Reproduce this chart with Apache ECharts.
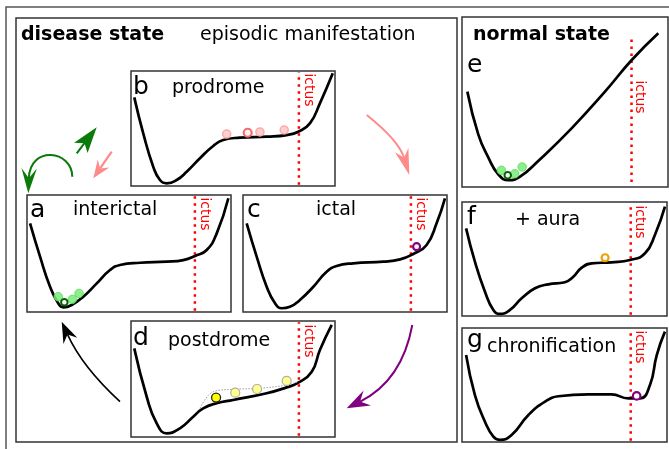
<!DOCTYPE html>
<html><head><meta charset="utf-8">
<script src="https://cdn.jsdelivr.net/npm/echarts@6/dist/echarts.min.js"></script>
<style>html,body{margin:0;padding:0;background:#fff}#c{width:669px;height:449px}</style>
</head><body><div id="c"></div>
<script>
// ---- data (panel coordinates: x,y in 0..100 of each panel) ----
const panelLetters = ['a','b','c','d','e','f','g'];
const panelNames = ['interictal','prodrome','ictal','postdrome','','+ aura','chronification'];
const headings = ['disease state','episodic manifestation','normal state'];
const ictusLabel = 'ictus';
const ictusX = 82.3;

const curveA = [[1.5,75.8],[6.4,47.3],[11.3,21.6],[15.3,7.4],[17.8,4],[21.9,6],[27.6,13.1],[34.2,24.5],[40.7,35.9],[45.6,40.2],[55.4,42.1],[68.5,43],[76.6,44.4],[82.4,47.9],[88.1,53],[93,67.2],[98.7,97.2]];
const curveB = [[1.6,77.1],[6.0,45.8],[10.9,16.8],[14.2,5.2],[17.5,2.3],[22.4,5.2],[27.3,12.4],[33.8,24.1],[40.3,34.8],[45.2,40],[53.4,42],[66.5,42.9],[76.3,44.3],[82,47.2],[87.7,54.5],[92.6,71.9],[98.9,98]];
const curveC = [[1.8,75.8],[6.7,47.3],[11.6,21.6],[15.7,7.4],[19,3.2],[23,4.5],[27.9,10.3],[34.5,21.6],[41,34.4],[45.9,39.3],[54.1,41.6],[68.8,43],[77,45],[83.5,49.6],[90,57.3],[94.9,75.8],[99,97.2]];
const curveD = [[1.6,76.4],[7.7,34.7],[12.6,11.8],[17.5,3.2],[24,7.5],[30.5,17.5],[35.4,24.7],[42,29.1],[50.1,31.9],[66.5,37.7],[76.3,42.8],[82,46.8],[88.6,56.3],[92.6,75],[98.4,96.6]];
const pathD = [[33.8,24.7],[40.3,39],[50.1,41.1],[63.2,42],[76.3,44.8],[82,47.7]];
const curveE = [[2.6,56.1],[7.9,31],[12.8,17.3],[17.6,7.5],[22.5,4],[28.2,6.1],[37,15.3],[53.2,34.5],[69.4,56.1],[82.4,74.7],[95.3,90.4]];
const curveF = [[2,76.9],[6.3,47.6],[11.2,21.3],[15.3,5.3],[18.5,1.8],[23.4,5.3],[29.1,15.5],[35.6,24.3],[42.1,27.8],[50.2,29.6],[54.3,34.5],[58.4,42.4],[63.3,46.2],[73,47.1],[82,49.1],[89.3,55],[94.1,71.1],[99,95.9]];
const curveG = [[2,76.3],[6.3,41.2],[11.2,17.8],[15.3,4.7],[18.5,1.8],[24.2,6.1],[32.4,23.7],[40.5,35.4],[47,40.1],[61.6,41.8],[73,41.8],[81.1,38.3],[86.8,38.3],[91.7,50],[95,76.3],[99,96.8]];

const ballsA_light = [[15.3,13.1],[22.2,10.8],[25.5,15.9]];
const ballsA_dark = [[18.3,8.3]];
const ballsB_pale = [[46.9,45.2],[63.2,47],[75.1,48.7]];
const ballsB_strong = [[57.2,46.3]];
const ballsC = [[85.1,55.8]];
const ballsD_first = [[41.7,34]];
const ballsD_rest = [[51.1,38.2],[61.8,41.4],[76.3,48.3]];
const ballsE_light = [[19.1,9.8],[25.6,7.8],[29.2,11.8]];
const ballsE_dark = [[22.2,6.9]];
const ballsF = [[69.8,51.1]];
const ballsG = [[85.2,40.4]];

// ---- layout ----
const panelRects = [[27,195,204,117],[131,71,204,115],[243,195,204,117],[131,321,204,116],[462,17,206,170],[462,202,205,114],[462,328,205,114]];
const curves = [curveA,curveB,curveC,curveD,curveE,curveF,curveG];
const ictusSpan = [[1,99],[1,99],[1,99],[1,99],[3,89.4],[1,99],[1,99]];
const FONT = '"DejaVu Sans", sans-serif';

const grids = [], xAxes = [], yAxes = [], series = [];
panelRects.forEach((r,i)=>{
  grids.push({left:r[0],top:r[1],width:r[2],height:r[3],show:true,borderColor:'#333',borderWidth:1.5,backgroundColor:'transparent'});
  xAxes.push({gridIndex:i,type:'value',min:0,max:100,show:false});
  yAxes.push({gridIndex:i,type:'value',min:0,max:100,show:false});
  series.push({type:'line',xAxisIndex:i,yAxisIndex:i,data:[[ictusX,ictusSpan[i][0]],[ictusX,ictusSpan[i][1]]],symbol:'none',silent:true,
    lineStyle:{color:'#ff0000',width:2.5,type:[2.5,4.5]},z:2});
  series.push({type:'line',xAxisIndex:i,yAxisIndex:i,data:curves[i],smooth:0.5,symbol:'none',silent:true,
    lineStyle:{color:'#000',width:2.7},z:3});
});
function balls(i,data,size,color,border,bw,z){
  series.push({type:'scatter',xAxisIndex:i,yAxisIndex:i,data:data,symbol:'circle',symbolSize:size,silent:true,z:z||5,
    itemStyle:{color:color,borderColor:border,borderWidth:bw,opacity:1}});
}
balls(0,ballsA_light,8.5,'rgba(120,235,120,0.85)','rgba(100,220,100,0.9)',1);
balls(0,ballsA_dark,6.5,'#ffffff','#006400',2,6);
balls(1,ballsB_pale,8,'#ffd0d0','#ffa8a8',1.5);
balls(1,ballsB_strong,8,'#fff0f0','#f07070',2.2);
balls(2,ballsC,7,'#ffffff','#800080',2.2);
series.push({type:'line',xAxisIndex:3,yAxisIndex:3,data:pathD,smooth:0.4,symbol:'none',silent:true,
  lineStyle:{color:'#9a9a9a',width:1,type:[1.5,1.5]},z:4});
balls(3,ballsD_first,9,'#ffff00','#222',1.3);
balls(3,ballsD_rest,9,'#ffff90','#b0b0a0',1.2);
balls(4,ballsE_light,8.5,'rgba(120,235,120,0.85)','rgba(100,220,100,0.9)',1);
balls(4,ballsE_dark,6.5,'#ffffff','#006400',2,6);
balls(5,ballsF,7,'#ffffff','#f0a000',2.2);
balls(6,ballsG,7.5,'#ffffff','#800080',2.2);

// ---- graphics: frames, texts, arrows ----
const g = [];
g.push({type:'rect',shape:{x:6,y:7,width:700,height:500},style:{fill:null,stroke:'#555',lineWidth:1.5},z:0});
g.push({type:'rect',shape:{x:16,y:18,width:441,height:424},style:{fill:null,stroke:'#333',lineWidth:1.5},z:0});
function txt(s,x,y,size,opts){
  opts=opts||{};
  return {type:'text',x:x,y:y,rotation:opts.rot||0,z:10,style:{text:s,x:0,y:0,font:(opts.bold?'bold ':'')+size+'px '+FONT,
    fill:opts.color||'#000',textAlign:opts.align||'left',align:opts.align||'left',textVerticalAlign:'middle',verticalAlign:'middle'}};
}
g.push(txt(headings[0],21,35,19,{bold:true}));
g.push(txt(headings[1],200,35,19));
g.push(txt(headings[2],473,35,19,{bold:true}));
const letterPos = [[30,210],[133,87],[247,210],[133,338],[467,65],[467,217],[467,340]];
const namePos = [[73,210],[172,88],[316,210],[168,341],[0,0],[515,220],[487,347]];
const ictusPos = [[205,214],[309,90],[421,214],[309,341],[640,97],[640,222],[640,347]];
panelLetters.forEach((L,i)=>{
  g.push(txt(L,letterPos[i][0],letterPos[i][1],25));
  if(panelNames[i]) g.push(txt(panelNames[i],namePos[i][0],namePos[i][1],19));
  g.push(txt(ictusLabel,ictusPos[i][0],ictusPos[i][1],14,{color:'#ff0000',align:'center',rot:-Math.PI/2}));
});
function arrow(p0,c1,c2,p1,color,lw,hl,hw,notch){
  const last = c2||c1;
  let dx=p1[0]-last[0], dy=p1[1]-last[1]; const L=Math.hypot(dx,dy); dx/=L; dy/=L;
  const nx=-dy, ny=dx;
  const bx=p1[0]-dx*hl, by=p1[1]-dy*hl;
  const pts=[[p1[0],p1[1]],[bx+nx*hw,by+ny*hw],[p1[0]-dx*notch,p1[1]-dy*notch],[bx-nx*hw,by-ny*hw]];
  const shape={x1:p0[0],y1:p0[1],x2:p1[0]-dx*notch,y2:p1[1]-dy*notch,cpx1:c1[0],cpy1:c1[1]};
  if(c2){shape.cpx2=c2[0];shape.cpy2=c2[1];}
  g.push({type:'bezierCurve',shape:shape,style:{stroke:color,lineWidth:lw,fill:null},z:8});
  g.push({type:'polygon',shape:{points:pts},style:{fill:color,stroke:null},z:9});
}
arrow([72.3,176.7],[72,150],[30,145],[28.3,193.3],'#0a7a0a',2,25,7.7,15);
arrow([76.7,153.3],[86.7,140.3],null,[96.7,127.3],'#0a7a0a',2,26,8.5,20);
arrow([111.7,151.7],[102.5,165],null,[93.3,178.3],'#ff8a8a',2.2,18,7,12);
arrow([366.7,115],[398.8,140.6],null,[409.3,175],'#ff8a8a',2,26,7,18);
arrow([412.3,325],[402,380.7],null,[346.7,408.3],'#800080',2,23,8.4,15);
arrow([120,401.7],[82.2,366.9],null,[61.7,321.7],'#000',1.6,21,7.6,14);

const chart = echarts.init(document.getElementById('c'),null,{renderer:'canvas'});
chart.setOption({animation:false,grid:grids,xAxis:xAxes,yAxis:yAxes,series:series,graphic:{elements:g}});
</script></body></html>
